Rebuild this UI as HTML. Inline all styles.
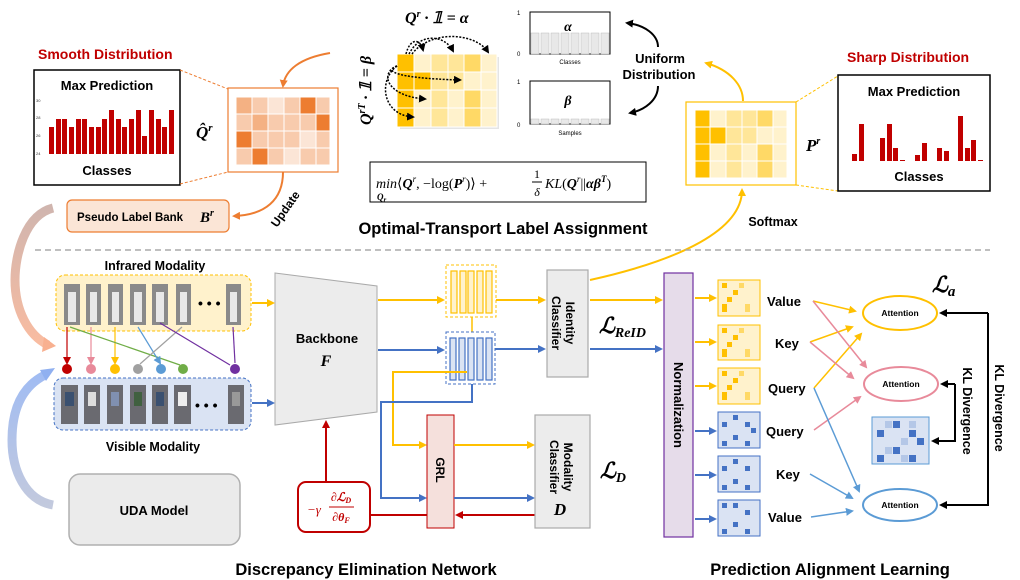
<!DOCTYPE html>
<html><head><meta charset="utf-8"><style>
body{margin:0;background:#fff}
svg{display:block;font-family:"Liberation Sans",sans-serif}
.b{font-weight:bold}
.m{font-family:"Liberation Serif",serif;font-style:italic;font-weight:bold}
</style></head><body>
<svg width="1020" height="580" viewBox="0 0 1020 580" xmlns="http://www.w3.org/2000/svg">
<defs>
<marker id="ab" markerWidth="8" markerHeight="8" refX="6" refY="4" orient="auto" markerUnits="userSpaceOnUse"><path d="M0,0 L8,4 L0,8z" fill="#000"/></marker>
<marker id="ao" markerWidth="8" markerHeight="8" refX="6" refY="4" orient="auto" markerUnits="userSpaceOnUse"><path d="M0,0 L8,4 L0,8z" fill="#ed7d31"/></marker>
<marker id="ay" markerWidth="8" markerHeight="8" refX="6" refY="4" orient="auto" markerUnits="userSpaceOnUse"><path d="M0,0 L8,4 L0,8z" fill="#ffc000"/></marker>
<marker id="abl" markerWidth="8" markerHeight="8" refX="6" refY="4" orient="auto" markerUnits="userSpaceOnUse"><path d="M0,0 L8,4 L0,8z" fill="#4472c4"/></marker>
<marker id="ar" markerWidth="8" markerHeight="8" refX="6" refY="4" orient="auto" markerUnits="userSpaceOnUse"><path d="M0,0 L8,4 L0,8z" fill="#c00000"/></marker>
<marker id="ap" markerWidth="8" markerHeight="8" refX="6" refY="4" orient="auto" markerUnits="userSpaceOnUse"><path d="M0,0 L8,4 L0,8z" fill="#e88a9a"/></marker>
<marker id="alb" markerWidth="8" markerHeight="8" refX="6" refY="4" orient="auto" markerUnits="userSpaceOnUse"><path d="M0,0 L8,4 L0,8z" fill="#5b9bd5"/></marker>
<linearGradient id="g1" x1="0" y1="0" x2="0" y2="1"><stop offset="0" stop-color="#c8a8a0"/><stop offset="1" stop-color="#f8b090"/></linearGradient>
<linearGradient id="g2" x1="0" y1="1" x2="0" y2="0"><stop offset="0" stop-color="#b8c0d8"/><stop offset="1" stop-color="#90b0f0"/></linearGradient>
</defs>

<!-- Smooth distribution -->
<text x="38" y="59" fill="#c00000" class="b" font-size="14">Smooth Distribution</text>
<rect x="34" y="70" width="146" height="115" fill="#fff" stroke="#000" stroke-width="1.5"/>
<text x="107" y="90" class="b" font-size="13" text-anchor="middle">Max Prediction</text>
<text x="107" y="175" class="b" font-size="13" text-anchor="middle">Classes</text>
<g font-size="4" fill="#333"><text x="36" y="102">30</text><text x="36" y="119">28</text><text x="36" y="137">26</text><text x="36" y="155">24</text></g>
<g fill="#c00000">
<rect x="49" y="127" width="5" height="27"/><rect x="56" y="119" width="5" height="35"/><rect x="62" y="119" width="5" height="35"/><rect x="69" y="127" width="5" height="27"/><rect x="76" y="119" width="5" height="35"/><rect x="82" y="119" width="5" height="35"/><rect x="89" y="127" width="5" height="27"/><rect x="96" y="127" width="5" height="27"/><rect x="102" y="119" width="5" height="35"/><rect x="109" y="110" width="5" height="44"/><rect x="116" y="119" width="5" height="35"/><rect x="122" y="127" width="5" height="27"/><rect x="129" y="119" width="5" height="35"/><rect x="136" y="110" width="5" height="44"/><rect x="142" y="136" width="5" height="18"/><rect x="149" y="110" width="5" height="44"/><rect x="156" y="119" width="5" height="35"/><rect x="162" y="127" width="5" height="27"/><rect x="169" y="110" width="5" height="44"/>
</g>
<line x1="180" y1="70" x2="228" y2="89" stroke="#ed7d31" stroke-dasharray="3,2"/>
<line x1="180" y1="184" x2="228" y2="172" stroke="#ed7d31" stroke-dasharray="3,2"/>

<!-- Q hat matrix -->
<rect x="228" y="88" width="110" height="84" fill="#fff" stroke="#ed7d31" stroke-width="1.2"/>
<g stroke="#fff" stroke-width="1">
<rect x="236" y="97" width="16" height="17" fill="#f4b183"/><rect x="252" y="97" width="16" height="17" fill="#f8cbad"/><rect x="268" y="97" width="16" height="17" fill="#fbe5d6"/><rect x="284" y="97" width="16" height="17" fill="#f8cbad"/><rect x="300" y="97" width="16" height="17" fill="#ed7d31"/><rect x="316" y="97" width="14" height="17" fill="#f8cbad"/>
<rect x="236" y="114" width="16" height="17" fill="#f8cbad"/><rect x="252" y="114" width="16" height="17" fill="#f4b183"/><rect x="268" y="114" width="16" height="17" fill="#f8cbad"/><rect x="284" y="114" width="16" height="17" fill="#f8cbad"/><rect x="300" y="114" width="16" height="17" fill="#f8cbad"/><rect x="316" y="114" width="14" height="17" fill="#ed7d31"/>
<rect x="236" y="131" width="16" height="17" fill="#ed7d31"/><rect x="252" y="131" width="16" height="17" fill="#f8cbad"/><rect x="268" y="131" width="16" height="17" fill="#f8cbad"/><rect x="284" y="131" width="16" height="17" fill="#f8cbad"/><rect x="300" y="131" width="16" height="17" fill="#fbe5d6"/><rect x="316" y="131" width="14" height="17" fill="#f8cbad"/>
<rect x="236" y="148" width="16" height="17" fill="#f8cbad"/><rect x="252" y="148" width="16" height="17" fill="#ed7d31"/><rect x="268" y="148" width="16" height="17" fill="#f8cbad"/><rect x="284" y="148" width="16" height="17" fill="#fbe5d6"/><rect x="300" y="148" width="16" height="17" fill="#f8cbad"/><rect x="316" y="148" width="14" height="17" fill="#f8cbad"/>
</g>
<text x="196" y="138" class="m" font-size="17">Q̂<tspan font-size="11" dy="-7">r</tspan></text>
<path d="M330,53 C300,58 285,70 283,86" fill="none" stroke="#ed7d31" stroke-width="2" marker-end="url(#ao)"/>
<path d="M283,172 C283,200 265,215 234,216" fill="none" stroke="#ed7d31" stroke-width="2" marker-end="url(#ao)"/>
<text x="0" y="0" class="b" font-size="12" transform="translate(277,228) rotate(-55)">Update</text>
<rect x="67" y="200" width="162" height="32" rx="5" fill="#fbe5d6" stroke="#ed7d31" stroke-width="1.2"/>
<text x="77" y="221" class="b" font-size="11.5">Pseudo Label Bank</text>
<text x="200" y="222" class="m" font-size="15">B<tspan font-size="10" dy="-6">r</tspan></text>

<!-- OT matrix -->
<rect x="400" y="57" width="99" height="72" fill="#ccc" opacity="0.5"/>
<g stroke="#fff" stroke-width="1">
<rect x="397" y="54" width="17" height="18" fill="#ffc000"/><rect x="414" y="54" width="17" height="18" fill="#fff2cc"/><rect x="431" y="54" width="17" height="18" fill="#ffe699"/><rect x="448" y="54" width="16" height="18" fill="#ffe699"/><rect x="464" y="54" width="17" height="18" fill="#ffd966"/><rect x="481" y="54" width="16" height="18" fill="#fff2cc"/>
<rect x="397" y="72" width="17" height="18" fill="#ffc000"/><rect x="414" y="72" width="17" height="18" fill="#ffc000"/><rect x="431" y="72" width="17" height="18" fill="#ffe699"/><rect x="448" y="72" width="16" height="18" fill="#ffe699"/><rect x="464" y="72" width="17" height="18" fill="#fff2cc"/><rect x="481" y="72" width="16" height="18" fill="#fff2cc"/>
<rect x="397" y="90" width="17" height="18" fill="#ffc000"/><rect x="414" y="90" width="17" height="18" fill="#fff2cc"/><rect x="431" y="90" width="17" height="18" fill="#ffe699"/><rect x="448" y="90" width="16" height="18" fill="#fff2cc"/><rect x="464" y="90" width="17" height="18" fill="#ffd966"/><rect x="481" y="90" width="16" height="18" fill="#fff2cc"/>
<rect x="397" y="108" width="17" height="19" fill="#ffc000"/><rect x="414" y="108" width="17" height="19" fill="#fff2cc"/><rect x="431" y="108" width="17" height="19" fill="#ffe699"/><rect x="448" y="108" width="16" height="19" fill="#fff2cc"/><rect x="464" y="108" width="17" height="19" fill="#ffd966"/><rect x="481" y="108" width="16" height="19" fill="#fff2cc"/>
</g>
<g fill="none" stroke="#000" stroke-width="1.5" stroke-dasharray="2,1.5">
<path d="M406,54 C410,38 420,38 423,50" marker-end="url(#ab)"/>
<path d="M409,54 C420,32 445,35 453,51" marker-end="url(#ab)"/>
<path d="M412,54 C430,30 475,32 488,52" marker-end="url(#ab)"/>
<path d="M397,66 C385,70 390,78 460,80" marker-end="url(#ab)"/>
<path d="M397,66 C380,72 385,96 425,99" marker-end="url(#ab)"/>
<path d="M397,66 C378,80 382,115 413,117" marker-end="url(#ab)"/>
</g>
<text x="405" y="23" class="m" font-size="16">Q<tspan font-size="10" dy="-6">r</tspan><tspan dy="6"> · 𝟙 = α</tspan></text>
<text x="0" y="0" class="m" font-size="16" transform="translate(371,125) rotate(-90)">Q<tspan font-size="10" dy="-6">rT</tspan><tspan dy="6"> · 𝟙 = β</tspan></text>

<!-- alpha beta charts -->
<g font-size="6" fill="#000">
<text x="517" y="15">1</text><text x="517" y="56">0</text><text x="517" y="84">1</text><text x="517" y="127">0</text>
<text x="570" y="64" text-anchor="middle">Classes</text><text x="570" y="135" text-anchor="middle">Samples</text>
</g>
<rect x="530" y="12" width="80" height="42" fill="#fff" stroke="#000"/>
<g fill="#e8e8e8" stroke="#bbb" stroke-width="0.5">
<rect x="531" y="33" width="8" height="21"/><rect x="541" y="33" width="8" height="21"/><rect x="551" y="33" width="8" height="21"/><rect x="561" y="33" width="8" height="21"/><rect x="571" y="33" width="8" height="21"/><rect x="581" y="33" width="8" height="21"/><rect x="591" y="33" width="8" height="21"/><rect x="601" y="33" width="8" height="21"/>
</g>
<text x="568" y="31" class="m" font-size="14" text-anchor="middle">α</text>
<rect x="530" y="81" width="80" height="43" fill="#fff" stroke="#000"/>
<g fill="#e8e8e8" stroke="#bbb" stroke-width="0.5">
<rect x="531" y="119" width="8" height="5"/><rect x="541" y="119" width="8" height="5"/><rect x="551" y="119" width="8" height="5"/><rect x="561" y="119" width="8" height="5"/><rect x="571" y="119" width="8" height="5"/><rect x="581" y="119" width="8" height="5"/><rect x="591" y="119" width="8" height="5"/><rect x="601" y="119" width="8" height="5"/>
</g>
<text x="568" y="105" class="m" font-size="14" text-anchor="middle">β</text>
<text x="660" y="63" class="b" font-size="13" text-anchor="middle">Uniform</text>
<text x="659" y="79" class="b" font-size="13" text-anchor="middle">Distribution</text>
<path d="M658,47 C658,35 645,25 627,23" fill="none" stroke="#000" stroke-width="2" marker-end="url(#ab)"/>
<path d="M658,86 C658,100 645,110 630,113" fill="none" stroke="#000" stroke-width="2" marker-end="url(#ab)"/>

<!-- formula -->
<rect x="370" y="162" width="276" height="40" fill="#fff" stroke="#000"/>
<text x="376" y="188" font-family="Liberation Serif,serif" font-size="14"><tspan font-style="italic">min</tspan>⟨<tspan class="m">Q</tspan><tspan font-size="9" dy="-6" font-style="italic">r</tspan><tspan dy="6">, −log(</tspan><tspan class="m">P</tspan><tspan font-size="9" dy="-6" font-style="italic">r</tspan><tspan dy="6">)⟩ + </tspan></text>
<text x="377" y="200" class="m" font-size="9">Q<tspan font-size="7" dy="2">r</tspan></text>
<text x="537" y="178" font-family="Liberation Serif,serif" font-size="12" text-anchor="middle">1</text>
<line x1="532" y1="182" x2="542" y2="182" stroke="#000"/>
<text x="537" y="196" font-family="Liberation Serif,serif" font-style="italic" font-size="12" text-anchor="middle">δ</text>
<text x="545" y="188" font-family="Liberation Serif,serif" font-size="14"><tspan font-style="italic">KL</tspan>(<tspan class="m">Q</tspan><tspan font-size="9" dy="-6" font-style="italic">r</tspan><tspan dy="6">||</tspan><tspan class="m">αβ</tspan><tspan class="m" font-size="9" dy="-6">T</tspan><tspan dy="6">)</tspan></text>
<text x="503" y="234" class="b" font-size="16.5" text-anchor="middle">Optimal-Transport Label Assignment</text>

<!-- P matrix -->
<rect x="686" y="102" width="110" height="83" fill="#fff" stroke="#ffc000" stroke-width="1.2"/>
<g stroke="#fff" stroke-width="1">
<rect x="695" y="110" width="15" height="17" fill="#ffc000"/><rect x="710" y="110" width="16" height="17" fill="#fff2cc"/><rect x="726" y="110" width="16" height="17" fill="#ffe699"/><rect x="742" y="110" width="15" height="17" fill="#ffe699"/><rect x="757" y="110" width="16" height="17" fill="#ffd966"/><rect x="773" y="110" width="14" height="17" fill="#fff2cc"/>
<rect x="695" y="127" width="15" height="17" fill="#ffc000"/><rect x="710" y="127" width="16" height="17" fill="#ffc000"/><rect x="726" y="127" width="16" height="17" fill="#ffe699"/><rect x="742" y="127" width="15" height="17" fill="#ffe699"/><rect x="757" y="127" width="16" height="17" fill="#fff2cc"/><rect x="773" y="127" width="14" height="17" fill="#fff2cc"/>
<rect x="695" y="144" width="15" height="17" fill="#ffc000"/><rect x="710" y="144" width="16" height="17" fill="#fff2cc"/><rect x="726" y="144" width="16" height="17" fill="#ffe699"/><rect x="742" y="144" width="15" height="17" fill="#fff2cc"/><rect x="757" y="144" width="16" height="17" fill="#ffd966"/><rect x="773" y="144" width="14" height="17" fill="#fff2cc"/>
<rect x="695" y="161" width="15" height="17" fill="#ffc000"/><rect x="710" y="161" width="16" height="17" fill="#fff2cc"/><rect x="726" y="161" width="16" height="17" fill="#ffe699"/><rect x="742" y="161" width="15" height="17" fill="#fff2cc"/><rect x="757" y="161" width="16" height="17" fill="#ffd966"/><rect x="773" y="161" width="14" height="17" fill="#fff2cc"/>
</g>
<text x="806" y="151" class="m" font-size="17">P<tspan font-size="10" dy="-7">r</tspan></text>
<path d="M743,101 C743,85 730,70 706,63" fill="none" stroke="#ffc000" stroke-width="2" marker-end="url(#ay)"/>
<path d="M590,280 C680,260 742,230 742,190" fill="none" stroke="#ffc000" stroke-width="2" marker-end="url(#ay)"/>
<text x="773" y="226" class="b" font-size="12.5" text-anchor="middle">Softmax</text>
<line x1="796" y1="102" x2="838" y2="76" stroke="#ffc000" stroke-dasharray="3,2"/>
<line x1="796" y1="185" x2="838" y2="191" stroke="#ffc000" stroke-dasharray="3,2"/>
<text x="847" y="62" fill="#c00000" class="b" font-size="14">Sharp Distribution</text>
<rect x="838" y="75" width="152" height="116" fill="#fff" stroke="#000" stroke-width="1.5"/>
<text x="914" y="96" class="b" font-size="13" text-anchor="middle">Max Prediction</text>
<text x="919" y="181" class="b" font-size="13" text-anchor="middle">Classes</text>
<g fill="#c00000">
<rect x="852" y="154" width="5" height="7"/><rect x="859" y="124" width="5" height="37"/><rect x="880" y="138" width="5" height="23"/><rect x="887" y="124" width="5" height="37"/><rect x="893" y="148" width="5" height="13"/><rect x="900" y="160" width="5" height="1"/><rect x="915" y="155" width="5" height="6"/><rect x="922" y="143" width="5" height="18"/><rect x="937" y="148" width="5" height="13"/><rect x="944" y="151" width="5" height="10"/><rect x="958" y="116" width="5" height="45"/><rect x="965" y="148" width="5" height="13"/><rect x="971" y="140" width="5" height="21"/><rect x="978" y="160" width="5" height="1"/>
</g>

<line x1="35" y1="250" x2="990" y2="250" stroke="#aaa" stroke-width="1.5" stroke-dasharray="6,4"/>

<!-- left arcs -->
<path d="M53,208 C25,215 15,255 15,280 C15,310 28,335 48,345" fill="none" stroke="url(#g1)" stroke-width="9" opacity="0.85"/>
<path d="M44,337 L56,346 L42,352z" fill="#f8b090"/>
<path d="M53,505 C25,500 12,470 12,440 C12,405 25,385 45,375" fill="none" stroke="url(#g2)" stroke-width="9" opacity="0.85"/>
<path d="M40,370 L55,368 L46,381z" fill="#90b0f0"/>

<!-- Modalities -->
<text x="155" y="270" class="b" font-size="12.5" text-anchor="middle">Infrared Modality</text>
<rect x="56" y="275" width="195" height="56" rx="9" fill="#fff2cc" stroke="#ffc000" stroke-dasharray="3,2"/>
<g fill="#8a8a8a">
<rect x="64" y="284" width="16" height="41"/><rect x="86" y="284" width="15" height="41"/><rect x="108" y="284" width="15" height="41"/><rect x="130" y="284" width="16" height="41"/><rect x="152" y="284" width="16" height="41"/><rect x="176" y="284" width="15" height="41"/><rect x="226" y="284" width="15" height="41"/>
</g>
<g fill="#e8e8e8"><rect x="68" y="292" width="8" height="30"/><rect x="90" y="292" width="7" height="30"/><rect x="112" y="292" width="7" height="30"/><rect x="134" y="292" width="8" height="30"/><rect x="156" y="292" width="8" height="30"/><rect x="180" y="292" width="7" height="30"/><rect x="230" y="292" width="7" height="30"/></g>
<text x="198" y="308" class="b" font-size="14">• • •</text>
<rect x="54" y="378" width="197" height="52" rx="9" fill="#dae3f3" stroke="#4472c4" stroke-dasharray="3,2"/>
<g fill="#6a6a70">
<rect x="61" y="385" width="17" height="39"/><rect x="84" y="385" width="16" height="39"/><rect x="107" y="385" width="16" height="39"/><rect x="130" y="385" width="16" height="39"/><rect x="152" y="385" width="16" height="39"/><rect x="174" y="385" width="17" height="39"/><rect x="228" y="385" width="16" height="39"/>
</g>
<g fill="#3a5070"><rect x="65" y="392" width="9" height="14"/><rect x="88" y="392" width="8" height="14" fill="#ddd"/><rect x="111" y="392" width="8" height="14" fill="#8090b0"/><rect x="134" y="392" width="8" height="14" fill="#406040"/><rect x="156" y="392" width="8" height="14"/><rect x="178" y="392" width="9" height="14" fill="#eee"/><rect x="232" y="392" width="8" height="14" fill="#999"/></g>
<text x="195" y="410" class="b" font-size="14">• • •</text>
<text x="153" y="451" class="b" font-size="12.5" text-anchor="middle">Visible Modality</text>

<!-- matching arrows -->
<g stroke-width="1.2" fill="none">
<line x1="67" y1="327" x2="67" y2="363" stroke="#c00000" marker-end="url(#ar)"/>
<line x1="91" y1="327" x2="91" y2="363" stroke="#e88a9a" marker-end="url(#ap)"/>
<line x1="115" y1="327" x2="115" y2="363" stroke="#ffc000" marker-end="url(#ay)"/>
<line x1="70" y1="327" x2="180" y2="365" stroke="#70ad47"/>
<line x1="138" y1="327" x2="160" y2="363" stroke="#5b9bd5" marker-end="url(#alb)"/>
<line x1="182" y1="327" x2="140" y2="364" stroke="#a0a0a0"/>
<line x1="160" y1="323" x2="230" y2="365" stroke="#7030a0"/>
<line x1="233" y1="327" x2="235" y2="363" stroke="#7030a0"/>
</g>
<g><circle cx="67" cy="369" r="5" fill="#c00000"/><circle cx="91" cy="369" r="5" fill="#e88a9a"/><circle cx="115" cy="369" r="5" fill="#ffc000"/><circle cx="138" cy="369" r="5" fill="#a0a0a0"/><circle cx="161" cy="369" r="5" fill="#5b9bd5"/><circle cx="183" cy="369" r="5" fill="#70ad47"/><circle cx="235" cy="369" r="5" fill="#7030a0"/></g>

<rect x="69" y="474" width="171" height="71" rx="11" fill="#ebebeb" stroke="#b0b0b0" stroke-width="1.5"/>
<text x="154" y="515" class="b" font-size="13" text-anchor="middle">UDA Model</text>

<!-- backbone -->
<polygon points="275,273 377,286 377,412 275,425" fill="#ececec" stroke="#aaa"/>
<text x="327" y="343" class="b" font-size="13" text-anchor="middle">Backbone</text>
<text x="326" y="366" class="m" font-size="16" text-anchor="middle">F</text>
<line x1="252" y1="303" x2="273" y2="303" stroke="#ffc000" stroke-width="2" marker-end="url(#ay)"/>
<line x1="252" y1="403" x2="273" y2="403" stroke="#4472c4" stroke-width="2" marker-end="url(#abl)"/>

<!-- feature boxes -->
<line x1="378" y1="300" x2="443" y2="300" stroke="#ffc000" stroke-width="2" marker-end="url(#ay)"/>
<line x1="378" y1="350" x2="443" y2="350" stroke="#4472c4" stroke-width="2" marker-end="url(#abl)"/>
<line x1="472" y1="317" x2="472" y2="332" stroke="#ffc000" stroke-width="1.5"/>
<rect x="446" y="265" width="50" height="52" fill="#fff" stroke="#ffc000" stroke-dasharray="3,2"/>
<g fill="#fff2cc" stroke="#ffc000" stroke-width="1.2"><rect x="451" y="271" width="6" height="42"/><rect x="460" y="271" width="6" height="42"/><rect x="468" y="271" width="6" height="42"/><rect x="477" y="271" width="6" height="42"/><rect x="486" y="271" width="6" height="42"/></g>
<rect x="446" y="332" width="49" height="52" fill="#fff" stroke="#4472c4" stroke-dasharray="3,2"/>
<g fill="#dae3f3" stroke="#4472c4" stroke-width="1.2"><rect x="450" y="338" width="6" height="42"/><rect x="459" y="338" width="6" height="42"/><rect x="468" y="338" width="6" height="42"/><rect x="477" y="338" width="6" height="42"/><rect x="486" y="338" width="6" height="42"/></g>
<path d="M467,372 L393,372 L393,445 L425,445" fill="none" stroke="#ffc000" stroke-width="2" marker-end="url(#ay)"/>
<path d="M472,384 L472,402 L381,402 L381,498 L425,498" fill="none" stroke="#4472c4" stroke-width="2" marker-end="url(#abl)"/>
<line x1="496" y1="300" x2="544" y2="300" stroke="#ffc000" stroke-width="2" marker-end="url(#ay)"/>
<line x1="495" y1="349" x2="544" y2="349" stroke="#4472c4" stroke-width="2" marker-end="url(#abl)"/>

<!-- identity classifier -->
<rect x="547" y="270" width="41" height="107" fill="#ececec" stroke="#aaa" stroke-width="1.2"/>
<text transform="translate(566,323) rotate(90)" class="b" font-size="12" text-anchor="middle">Identity</text>
<text transform="translate(552,323) rotate(90)" class="b" font-size="12" text-anchor="middle">Classifier</text>
<text x="599" y="333" font-family="Liberation Serif,serif" font-style="italic" font-weight="bold" font-size="22">ℒ<tspan font-size="14" dy="4">ReID</tspan></text>
<line x1="590" y1="300" x2="661" y2="300" stroke="#ffc000" stroke-width="2" marker-end="url(#ay)"/>
<line x1="590" y1="349" x2="661" y2="349" stroke="#4472c4" stroke-width="2" marker-end="url(#abl)"/>

<!-- GRL, modality classifier -->
<rect x="427" y="415" width="27" height="113" fill="#f5e0dc" stroke="#c00000" stroke-width="1"/>
<text transform="translate(436,470) rotate(90)" class="b" font-size="12" text-anchor="middle">GRL</text>
<line x1="454" y1="445" x2="533" y2="445" stroke="#ffc000" stroke-width="2" marker-end="url(#ay)"/>
<line x1="454" y1="498" x2="533" y2="498" stroke="#4472c4" stroke-width="2" marker-end="url(#abl)"/>
<line x1="535" y1="515" x2="457" y2="515" stroke="#c00000" stroke-width="2" marker-end="url(#ar)"/>
<rect x="535" y="415" width="55" height="113" fill="#ececec" stroke="#aaa" stroke-width="1.2"/>
<text transform="translate(564,467) rotate(90)" class="b" font-size="12" text-anchor="middle">Modality</text>
<text transform="translate(550,467) rotate(90)" class="b" font-size="12" text-anchor="middle">Classifier</text>
<text x="560" y="515" class="m" font-size="17" text-anchor="middle">D</text>
<text x="600" y="478" font-family="Liberation Serif,serif" font-style="italic" font-weight="bold" font-size="22">ℒ<tspan font-size="14" dy="4">D</tspan></text>

<!-- red gradient -->
<rect x="298" y="482" width="72" height="50" rx="8" fill="#fff" stroke="#c00000" stroke-width="2"/>
<text x="307" y="514" fill="#c00000" font-family="Liberation Serif,serif" font-style="italic" font-size="13">−γ</text>
<text x="341" y="501" fill="#c00000" font-family="Liberation Serif,serif" font-style="italic" font-weight="bold" font-size="12" text-anchor="middle">∂ℒ<tspan font-size="8" dy="2">D</tspan></text>
<line x1="329" y1="507" x2="354" y2="507" stroke="#c00000"/>
<text x="341" y="521" fill="#c00000" font-family="Liberation Serif,serif" font-style="italic" font-weight="bold" font-size="12" text-anchor="middle">∂θ<tspan font-size="8" dy="2">F</tspan></text>
<line x1="427" y1="515" x2="370" y2="515" stroke="#c00000" stroke-width="2"/>
<line x1="326" y1="482" x2="326" y2="422" stroke="#c00000" stroke-width="2" marker-end="url(#ar)"/>

<text x="366" y="575" class="b" font-size="16.5" text-anchor="middle">Discrepancy Elimination Network</text>

<!-- Normalization -->
<rect x="664" y="273" width="29" height="264" fill="#e6dcea" stroke="#7030a0" stroke-width="1.2"/>
<text transform="translate(674,405) rotate(90)" class="b" font-size="13" text-anchor="middle">Normalization</text>

<!-- small matrices -->
<g stroke="none">
<rect x="718" y="280" width="42" height="36" fill="#fff2cc" stroke="#ffc000"/>
<rect x="722" y="283" width="5" height="5" fill="#ffc000"/><rect x="733" y="290" width="5" height="5" fill="#ffc000"/><rect x="727" y="297" width="5" height="5" fill="#ffc000"/><rect x="722" y="304" width="5" height="8" fill="#ffc000"/><rect x="745" y="304" width="5" height="8" fill="#ffd966"/><rect x="739" y="283" width="5" height="5" fill="#ffd966"/>
<rect x="718" y="325" width="42" height="35" fill="#fff2cc" stroke="#ffc000"/>
<rect x="722" y="328" width="5" height="5" fill="#ffc000"/><rect x="733" y="335" width="5" height="5" fill="#ffc000"/><rect x="727" y="342" width="5" height="5" fill="#ffc000"/><rect x="722" y="349" width="5" height="8" fill="#ffc000"/><rect x="745" y="349" width="5" height="8" fill="#ffd966"/><rect x="739" y="328" width="5" height="5" fill="#ffd966"/>
<rect x="718" y="368" width="42" height="36" fill="#fff2cc" stroke="#ffc000"/>
<rect x="722" y="371" width="5" height="5" fill="#ffc000"/><rect x="733" y="378" width="5" height="5" fill="#ffc000"/><rect x="727" y="385" width="5" height="5" fill="#ffc000"/><rect x="722" y="392" width="5" height="8" fill="#ffc000"/><rect x="745" y="392" width="5" height="8" fill="#ffd966"/><rect x="739" y="371" width="5" height="5" fill="#ffd966"/>
<rect x="718" y="412" width="42" height="36" fill="#dae3f3" stroke="#4472c4"/>
<rect x="733" y="415" width="5" height="5" fill="#4472c4"/><rect x="722" y="422" width="5" height="5" fill="#4472c4"/><rect x="745" y="422" width="5" height="5" fill="#4472c4"/><rect x="751" y="428" width="5" height="5" fill="#4472c4"/><rect x="733" y="435" width="5" height="5" fill="#4472c4"/><rect x="722" y="441" width="5" height="5" fill="#4472c4"/><rect x="745" y="441" width="5" height="5" fill="#4472c4"/>
<rect x="718" y="456" width="42" height="36" fill="#dae3f3" stroke="#4472c4"/>
<rect x="733" y="459" width="5" height="5" fill="#4472c4"/><rect x="722" y="466" width="5" height="5" fill="#4472c4"/><rect x="745" y="466" width="5" height="5" fill="#4472c4"/><rect x="733" y="479" width="5" height="5" fill="#4472c4"/><rect x="722" y="485" width="5" height="5" fill="#4472c4"/><rect x="745" y="485" width="5" height="5" fill="#4472c4"/>
<rect x="718" y="500" width="42" height="36" fill="#dae3f3" stroke="#4472c4"/>
<rect x="722" y="503" width="5" height="5" fill="#4472c4"/><rect x="733" y="503" width="5" height="5" fill="#4472c4"/><rect x="745" y="510" width="5" height="5" fill="#4472c4"/><rect x="733" y="522" width="5" height="5" fill="#4472c4"/><rect x="722" y="529" width="5" height="5" fill="#4472c4"/><rect x="745" y="529" width="5" height="5" fill="#4472c4"/>
</g>
<g stroke-width="2">
<line x1="695" y1="298" x2="715" y2="298" stroke="#ffc000" marker-end="url(#ay)"/>
<line x1="695" y1="342" x2="715" y2="342" stroke="#ffc000" marker-end="url(#ay)"/>
<line x1="695" y1="386" x2="715" y2="386" stroke="#ffc000" marker-end="url(#ay)"/>
<line x1="695" y1="431" x2="715" y2="431" stroke="#4472c4" marker-end="url(#abl)"/>
<line x1="695" y1="475" x2="715" y2="475" stroke="#4472c4" marker-end="url(#abl)"/>
<line x1="695" y1="519" x2="715" y2="519" stroke="#4472c4" marker-end="url(#abl)"/>
</g>
<g class="b" font-size="13">
<text x="767" y="306">Value</text><text x="775" y="348">Key</text><text x="768" y="393">Query</text><text x="766" y="436">Query</text><text x="776" y="479">Key</text><text x="768" y="522">Value</text>
</g>
<!-- attention arrows -->
<g stroke-width="1.5" fill="none">
<line x1="813" y1="301" x2="855" y2="311" stroke="#ffc000" marker-end="url(#ay)"/>
<line x1="810" y1="342" x2="852" y2="327" stroke="#ffc000" marker-end="url(#ay)"/>
<line x1="814" y1="388" x2="861" y2="334" stroke="#ffc000" marker-end="url(#ay)"/>
<line x1="813" y1="301" x2="866" y2="367" stroke="#e88a9a" marker-end="url(#ap)"/>
<line x1="810" y1="342" x2="853" y2="378" stroke="#e88a9a" marker-end="url(#ap)"/>
<line x1="814" y1="430" x2="860" y2="397" stroke="#e88a9a" marker-end="url(#ap)"/>
<line x1="814" y1="388" x2="859" y2="491" stroke="#5b9bd5" marker-end="url(#alb)"/>
<line x1="810" y1="474" x2="852" y2="498" stroke="#5b9bd5" marker-end="url(#alb)"/>
<line x1="811" y1="517" x2="852" y2="511" stroke="#5b9bd5" marker-end="url(#alb)"/>
</g>
<ellipse cx="900" cy="313" rx="37" ry="17" fill="#fff" stroke="#ffc000" stroke-width="2"/>
<ellipse cx="901" cy="384" rx="37" ry="17" fill="#fff" stroke="#e88a9a" stroke-width="2"/>
<ellipse cx="900" cy="505" rx="37" ry="16" fill="#fff" stroke="#5b9bd5" stroke-width="2"/>
<g class="b" font-size="8.5" text-anchor="middle"><text x="900" y="316">Attention</text><text x="901" y="387">Attention</text><text x="900" y="508">Attention</text></g>
<rect x="872" y="417" width="57" height="47" fill="#dae3f3" stroke="#5b9bd5"/>
<g fill="#4472c4"><rect x="893" y="421" width="7" height="7"/><rect x="877" y="430" width="7" height="7"/><rect x="909" y="430" width="7" height="7"/><rect x="917" y="438" width="7" height="7"/><rect x="893" y="447" width="7" height="7"/><rect x="877" y="455" width="7" height="7"/><rect x="909" y="455" width="7" height="7"/></g>
<g fill="#b4c7e7"><rect x="885" y="421" width="7" height="7"/><rect x="909" y="421" width="7" height="7"/><rect x="901" y="438" width="7" height="7"/><rect x="885" y="447" width="7" height="7"/><rect x="901" y="455" width="7" height="7"/></g>
<path d="M988,313 L988,505 L941,505" fill="none" stroke="#000" stroke-width="2" marker-end="url(#ab)"/>
<line x1="988" y1="313" x2="941" y2="313" stroke="#000" stroke-width="2" marker-end="url(#ab)"/>
<path d="M955,384 L955,441 L933,441" fill="none" stroke="#000" stroke-width="2" marker-end="url(#ab)"/>
<line x1="955" y1="384" x2="942" y2="384" stroke="#000" stroke-width="2" marker-end="url(#ab)"/>
<text transform="translate(963,411) rotate(90)" class="b" font-size="12.5" text-anchor="middle">KL Divergence</text>
<text transform="translate(995,408) rotate(90)" class="b" font-size="12.5" text-anchor="middle">KL Divergence</text>
<text x="932" y="292" font-family="Liberation Serif,serif" font-style="italic" font-weight="bold" font-size="22">ℒ<tspan font-size="15" dy="4">a</tspan></text>

<text x="830" y="575" class="b" font-size="16.5" text-anchor="middle">Prediction Alignment Learning</text>
</svg>
</body></html>
